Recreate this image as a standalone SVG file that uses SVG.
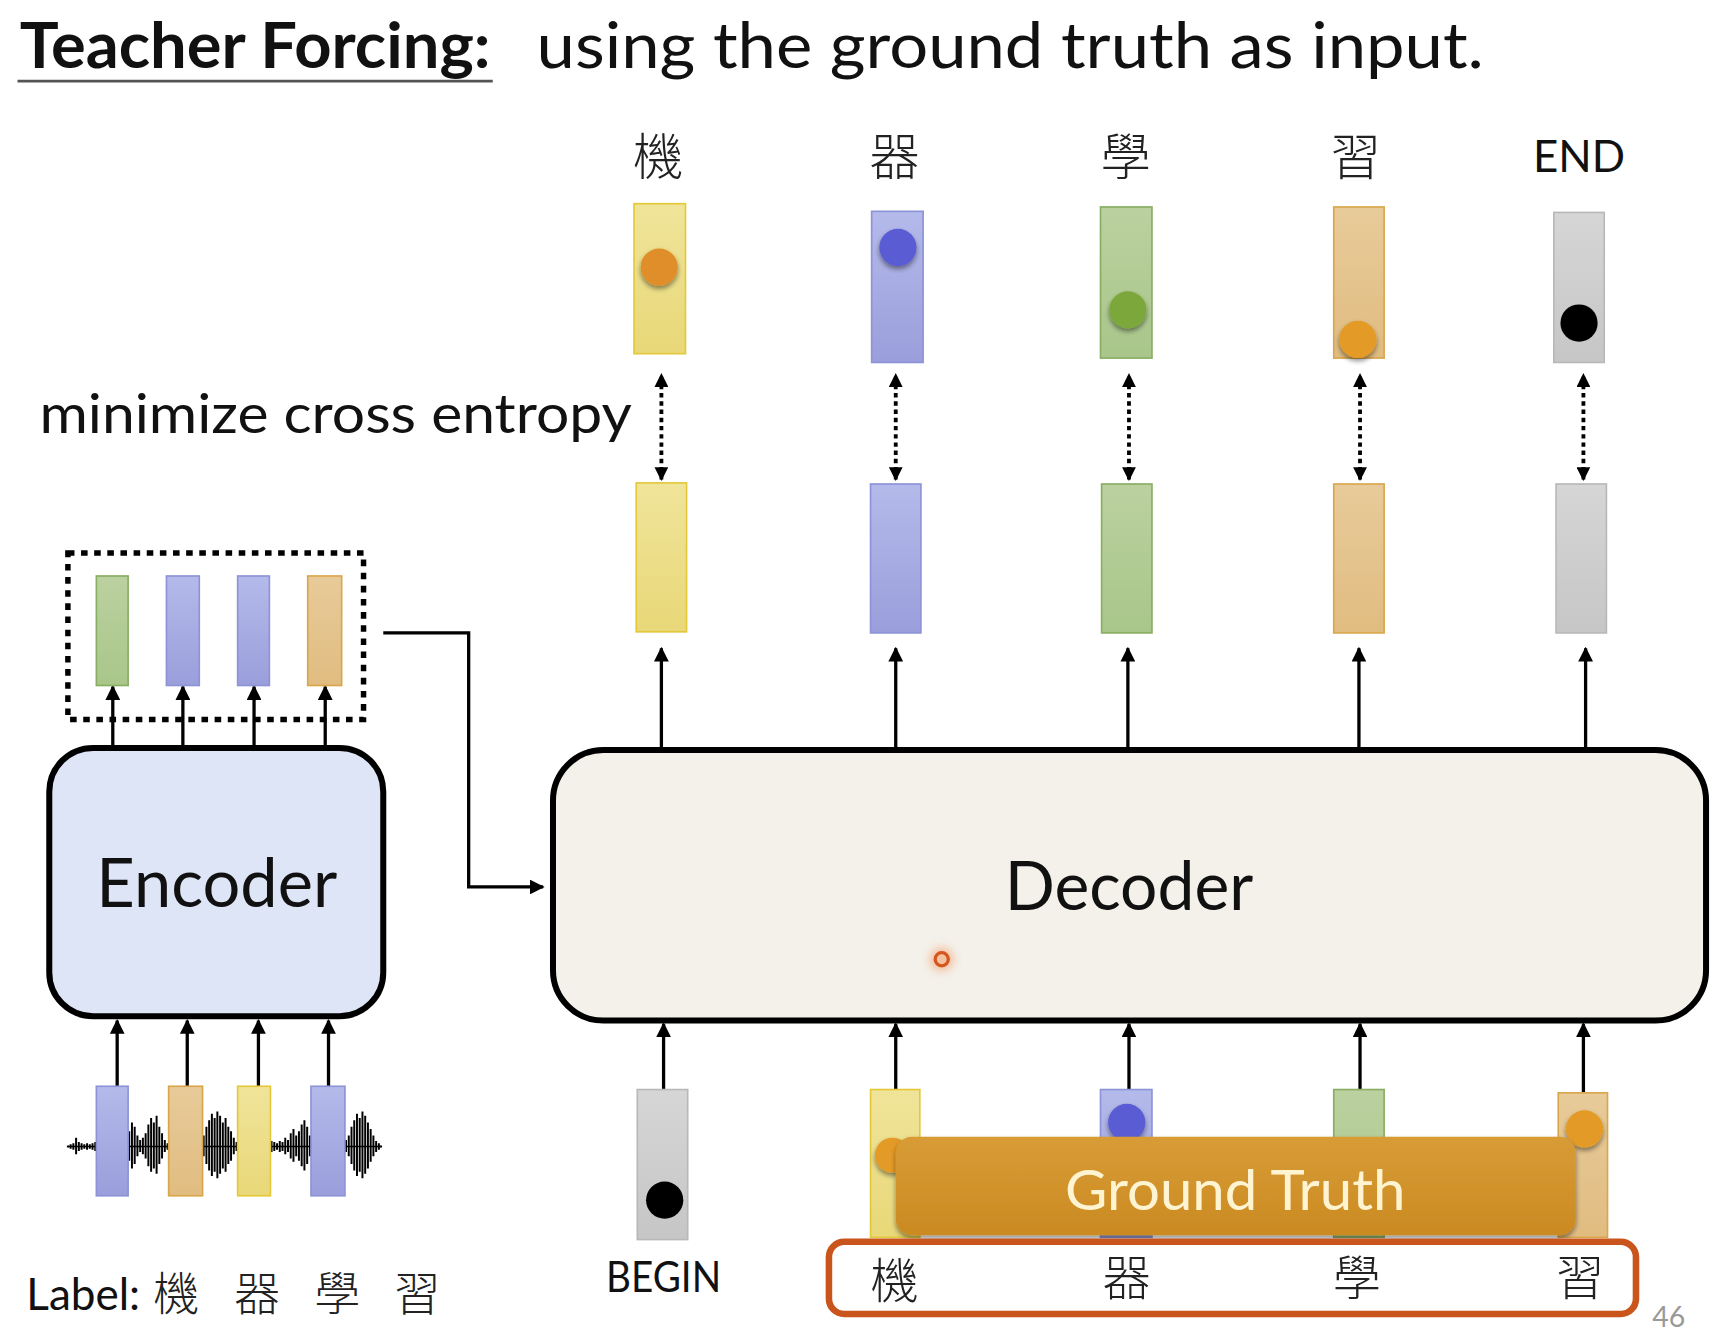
<svg xmlns="http://www.w3.org/2000/svg" width="1717" height="1338" viewBox="0 0 1717 1338">
<defs>
<style>
.lat{font-family:Lato,"Open Sans","Liberation Sans",sans-serif;fill:#111}
.cjk{font-family:"Noto Sans CJK TC","Noto Sans CJK SC",sans-serif;font-weight:300;fill:#222}
.ln{stroke:#000;stroke-width:3;fill:none}
.dot{stroke:#000;stroke-width:3.5;fill:none;stroke-dasharray:4 3.5}
.big{stroke:#000;stroke-width:5.5}
.y{fill:url(#gy);stroke:#E3C93A;stroke-width:1.5}
.b{fill:url(#gb);stroke:#8C93D6;stroke-width:1.5}
.g{fill:url(#gg);stroke:#89AD63;stroke-width:1.5}
.o{fill:url(#go);stroke:#D9A64C;stroke-width:1.5}
.k{fill:url(#gk);stroke:#B8B8B8;stroke-width:1.5}
</style>
<linearGradient id="gy" x1="0" y1="0" x2="0" y2="1"><stop offset="0" stop-color="#F0E49A"/><stop offset="1" stop-color="#E8D878"/></linearGradient>
<linearGradient id="gb" x1="0" y1="0" x2="0" y2="1"><stop offset="0" stop-color="#B4BAEA"/><stop offset="1" stop-color="#9A9EDB"/></linearGradient>
<linearGradient id="gg" x1="0" y1="0" x2="0" y2="1"><stop offset="0" stop-color="#BBD1A0"/><stop offset="1" stop-color="#A9C68A"/></linearGradient>
<linearGradient id="go" x1="0" y1="0" x2="0" y2="1"><stop offset="0" stop-color="#E8CB9A"/><stop offset="1" stop-color="#E0BC80"/></linearGradient>
<linearGradient id="gk" x1="0" y1="0" x2="0" y2="1"><stop offset="0" stop-color="#D6D6D6"/><stop offset="1" stop-color="#C6C6C6"/></linearGradient>
<linearGradient id="gt" x1="0" y1="0" x2="0" y2="1"><stop offset="0" stop-color="#D89C36"/><stop offset="1" stop-color="#CB8A22"/></linearGradient>
<filter id="sh" x="-50%" y="-50%" width="200%" height="200%"><feGaussianBlur in="SourceAlpha" stdDeviation="2.5"/><feOffset dy="3"/><feComponentTransfer><feFuncA type="linear" slope="0.45"/></feComponentTransfer><feMerge><feMergeNode/><feMergeNode in="SourceGraphic"/></feMerge></filter>
<filter id="glow" x="-200%" y="-200%" width="500%" height="500%"><feGaussianBlur stdDeviation="4"/></filter>
<marker id="ah" viewBox="0 0 10 10" refX="9" refY="5" markerWidth="4.5" markerHeight="4.5" orient="auto-start-reverse" markerUnits="strokeWidth"><path d="M0,0 L10,5 L0,10 z" fill="#000"/></marker>
<marker id="ahd" viewBox="0 0 10 10" refX="9" refY="5" markerWidth="3.6" markerHeight="3.6" orient="auto-start-reverse" markerUnits="strokeWidth"><path d="M0,0 L10,5 L0,10 z" fill="#000"/></marker>
</defs>
<rect width="1717" height="1338" fill="#fff"/>
<g transform="scale(1.09503)">

<g id="title">
<text class="lat" x="18" y="62" font-size="58" font-weight="700" textLength="430" lengthAdjust="spacingAndGlyphs">Teacher Forcing:</text>
<line x1="16" y1="74" x2="450" y2="74" stroke="#555" stroke-width="2.5"/>
<text class="lat" x="490" y="62" font-size="58" textLength="865" lengthAdjust="spacingAndGlyphs">using the ground truth as input.</text>
</g>

<g id="minimize-label">
<text class="lat" x="36" y="395" font-size="49" textLength="541" lengthAdjust="spacingAndGlyphs">minimize cross entropy</text>
</g>

<g id="connectors">
<line class="dot" x1="604" y1="438" x2="604" y2="342" marker-start="url(#ahd)" marker-end="url(#ahd)"/>
<line class="dot" x1="818" y1="438" x2="818" y2="342" marker-start="url(#ahd)" marker-end="url(#ahd)"/>
<line class="dot" x1="1031" y1="438" x2="1031" y2="342" marker-start="url(#ahd)" marker-end="url(#ahd)"/>
<line class="dot" x1="1242" y1="438" x2="1242" y2="342" marker-start="url(#ahd)" marker-end="url(#ahd)"/>
<line class="dot" x1="1446" y1="438" x2="1446" y2="342" marker-start="url(#ahd)" marker-end="url(#ahd)"/>
<line class="ln" x1="604" y1="685" x2="604" y2="592" marker-end="url(#ah)"/>
<line class="ln" x1="818" y1="685" x2="818" y2="592" marker-end="url(#ah)"/>
<line class="ln" x1="1030" y1="685" x2="1030" y2="592" marker-end="url(#ah)"/>
<line class="ln" x1="1241" y1="685" x2="1241" y2="592" marker-end="url(#ah)"/>
<line class="ln" x1="1448" y1="685" x2="1448" y2="592" marker-end="url(#ah)"/>
<line class="ln" x1="606" y1="996" x2="606" y2="935" marker-end="url(#ah)"/>
<line class="ln" x1="818" y1="996" x2="818" y2="935" marker-end="url(#ah)"/>
<line class="ln" x1="1031" y1="996" x2="1031" y2="935" marker-end="url(#ah)"/>
<line class="ln" x1="1242" y1="996" x2="1242" y2="935" marker-end="url(#ah)"/>
<line class="ln" x1="1446" y1="999" x2="1446" y2="935" marker-end="url(#ah)"/>
<line class="ln" x1="103" y1="683" x2="103" y2="627" marker-end="url(#ah)"/>
<line class="ln" x1="167" y1="683" x2="167" y2="627" marker-end="url(#ah)"/>
<line class="ln" x1="232" y1="683" x2="232" y2="627" marker-end="url(#ah)"/>
<line class="ln" x1="297" y1="683" x2="297" y2="627" marker-end="url(#ah)"/>
<line class="ln" x1="107" y1="992" x2="107" y2="932" marker-end="url(#ah)"/>
<line class="ln" x1="171" y1="992" x2="171" y2="932" marker-end="url(#ah)"/>
<line class="ln" x1="236" y1="992" x2="236" y2="932" marker-end="url(#ah)"/>
<line class="ln" x1="300" y1="992" x2="300" y2="932" marker-end="url(#ah)"/>
<path class="ln" d="M350,578 H428 V810 H496" marker-end="url(#ah)"/>
</g>

<g id="output-labels">
<text class="cjk" x="601" y="160" font-size="46" text-anchor="middle">機</text>
<text class="cjk" x="817" y="160" font-size="46" text-anchor="middle">器</text>
<text class="cjk" x="1028" y="160" font-size="46" text-anchor="middle">學</text>
<text class="cjk" x="1238" y="160" font-size="46" text-anchor="middle">習</text>
<text class="lat" x="1442" y="157" font-size="40" text-anchor="middle">END</text>
</g>

<g id="targets">
<rect class="y" x="579" y="186" width="47" height="137"/>
<circle cx="602" cy="244" r="17" fill="#E08E2A" filter="url(#sh)"/>
<rect class="b" x="796" y="193" width="47" height="138"/>
<circle cx="820" cy="226" r="17" fill="#5A5BD4" filter="url(#sh)"/>
<rect class="g" x="1005" y="189" width="47" height="138"/>
<circle cx="1030" cy="283" r="17" fill="#7BA83A" filter="url(#sh)"/>
<rect class="o" x="1218" y="189" width="46" height="138"/>
<circle cx="1240" cy="310" r="17" fill="#E39A25" filter="url(#sh)"/>
<rect class="k" x="1419" y="194" width="46" height="137"/>
<circle cx="1442" cy="295" r="17" fill="#000"/>
</g>

<g id="decoder-outputs">
<rect class="y" x="581" y="441" width="46" height="136"/>
<rect class="b" x="795" y="442" width="46" height="136"/>
<rect class="g" x="1006" y="442" width="46" height="136"/>
<rect class="o" x="1218" y="442" width="46" height="136"/>
<rect class="k" x="1421" y="442" width="46" height="136"/>
</g>

<g id="decoder">
<rect class="big" x="505" y="685" width="1053" height="247" rx="46" fill="#F3F1EA"/>
<text class="lat" x="1031" y="831" font-size="62" text-anchor="middle" textLength="227" lengthAdjust="spacingAndGlyphs">Decoder</text>
<circle cx="860" cy="876" r="11" fill="#F4A070" opacity="0.6" filter="url(#glow)"/>
<circle cx="860" cy="876" r="6" fill="none" stroke="#D4561E" stroke-width="3"/>
</g>

<g id="encoder-outputs">
<rect x="62" y="505" width="270" height="152" fill="none" stroke="#000" stroke-width="5" stroke-dasharray="6 6"/>
<rect class="g" x="88" y="526" width="29" height="100"/>
<rect class="b" x="152" y="526" width="30" height="100"/>
<rect class="b" x="217" y="526" width="29" height="100"/>
<rect class="o" x="281" y="526" width="31" height="100"/>
</g>

<g id="encoder">
<rect class="big" x="45" y="683" width="305" height="245" rx="40" fill="#DEE5F7"/>
<text class="lat" x="198" y="828" font-size="62" text-anchor="middle" textLength="220" lengthAdjust="spacingAndGlyphs">Encoder</text>
</g>

<g id="audio-input">
<line x1="62" y1="1047" x2="348" y2="1047" stroke="#000" stroke-width="1.5"/>
<path stroke="#000" stroke-width="1.8" fill="none" d="M62,1046V1048 M64.5,1045V1049 M67,1044V1050 M69.5,1039V1054 M72,1043V1051 M74.5,1044V1050 M77,1045V1049 M79.5,1044V1050 M82,1045V1049 M84.5,1044V1050 M87,1043V1051 M118,1033V1060 M120.5,1025V1067 M123,1029V1063 M125.5,1037V1056 M128,1041V1052 M130.5,1039V1054 M133,1035V1058 M135.5,1027V1065 M138,1021V1070 M140.5,1025V1067 M143,1019V1072 M145.5,1029V1063 M148,1035V1058 M150.5,1041V1052 M153,1044V1050 M186,1037V1056 M188.5,1029V1063 M191,1023V1069 M193.5,1017V1074 M196,1021V1070 M198.5,1015V1076 M201,1019V1072 M203.5,1025V1067 M206,1021V1070 M208.5,1029V1063 M211,1033V1060 M213.5,1039V1054 M216,1043V1051 M248,1042V1052 M250.5,1043V1051 M253,1044V1050 M255.5,1042V1052 M258,1043V1051 M260.5,1039V1054 M263,1041V1052 M265.5,1035V1058 M268,1031V1061 M270.5,1037V1056 M273,1033V1060 M275.5,1027V1065 M278,1023V1069 M280.5,1029V1063 M283,1037V1056 M316,1041V1052 M318.5,1037V1056 M321,1029V1063 M323.5,1023V1069 M326,1017V1074 M328.5,1021V1070 M331,1015V1076 M333.5,1019V1072 M336,1025V1067 M338.5,1031V1061 M341,1037V1056 M343.5,1042V1052 M346,1044V1050 M348,1046V1048"/>
<rect class="b" x="88" y="992" width="29" height="100"/>
<rect class="o" x="154" y="992" width="31" height="100"/>
<rect class="y" x="217" y="992" width="30" height="100"/>
<rect class="b" x="284" y="992" width="31" height="100"/>
</g>

<g id="label-text">
<text class="lat" x="24" y="1196" font-size="40" textLength="104" lengthAdjust="spacingAndGlyphs">Label:</text>
<text class="cjk" x="161" y="1196" font-size="42" text-anchor="middle">機</text>
<text class="cjk" x="235" y="1196" font-size="42" text-anchor="middle">器</text>
<text class="cjk" x="308" y="1196" font-size="42" text-anchor="middle">學</text>
<text class="cjk" x="381" y="1196" font-size="42" text-anchor="middle">習</text>
</g>

<g id="begin">
<rect class="k" x="582" y="995" width="46" height="137"/>
<circle cx="607" cy="1096" r="17" fill="#000"/>
<text class="lat" x="606" y="1180" font-size="38" text-anchor="middle" textLength="105" lengthAdjust="spacingAndGlyphs">BEGIN</text>
</g>

<g id="decoder-inputs">
<rect class="y" x="795" y="995" width="45" height="135"/>
<circle cx="815" cy="1055" r="16" fill="#E39A25" filter="url(#sh)"/>
<rect class="b" x="1005" y="995" width="47" height="135"/>
<circle cx="1029" cy="1025" r="17" fill="#5A5BD4" filter="url(#sh)"/>
<rect class="g" x="1218" y="995" width="46" height="135"/>
<rect class="o" x="1423" y="998" width="45" height="132"/>
<circle cx="1447" cy="1031" r="17" fill="#E39A25" filter="url(#sh)"/>
</g>

<g id="ground-truth">
<rect x="818" y="1038" width="621" height="90" rx="15" fill="url(#gt)" filter="url(#sh)"/>
<text x="1128" y="1105" font-family="Lato,'Open Sans','Liberation Sans',sans-serif" font-size="52" fill="#FFF4D2" text-anchor="middle" textLength="311" lengthAdjust="spacingAndGlyphs">Ground Truth</text>
</g>

<g id="ground-truth-labels">
<rect x="757" y="1134" width="737" height="66" rx="14" fill="#fff" stroke="#C9541C" stroke-width="6"/>
<text class="cjk" x="817" y="1185" font-size="44" text-anchor="middle">機</text>
<text class="cjk" x="1029" y="1183" font-size="44" text-anchor="middle">器</text>
<text class="cjk" x="1239" y="1183" font-size="44" text-anchor="middle">學</text>
<text class="cjk" x="1443" y="1183" font-size="44" text-anchor="middle">習</text>
</g>

<g id="page-number">
<text x="1524" y="1212" font-family="Lato,'Open Sans',sans-serif" font-size="26" fill="#999" text-anchor="middle">46</text>
</g>
</g>
</svg>
